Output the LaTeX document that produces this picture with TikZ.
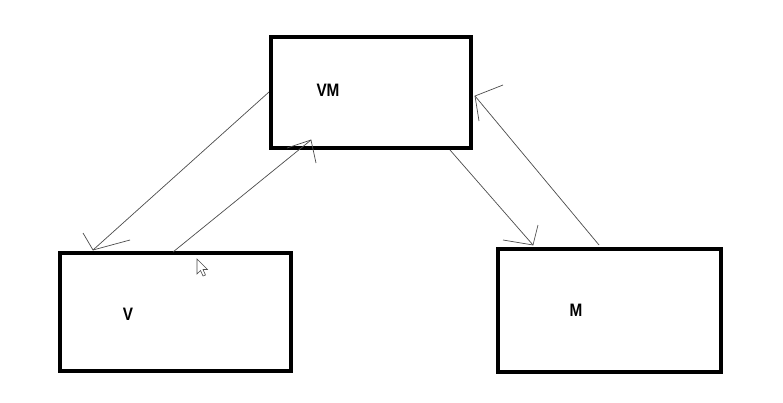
\documentclass[tikz,border=0pt]{standalone}
\usepackage{fontspec}
\setmainfont{Liberation Sans}
\begin{document}
\begin{tikzpicture}[x=1pt,y=-1pt,
  box/.style={draw=black,line width=4pt,inner sep=0pt,fill=white},
  lbl/.style={inner sep=0pt,font=\fontsize{18}{18}\selectfont\bfseries},
  conn/.style={draw=black!70,line width=0.7pt}]
\useasboundingbox (0,0) rectangle (783,402);
\fill[white] (0,0) rectangle (783,402);
% boxes
\node[box,minimum width=200pt,minimum height=111pt] (vm) at (371,92.5) {};
\node[box,minimum width=231pt,minimum height=118pt] (v) at (175.5,312) {};
\node[box,minimum width=223pt,minimum height=123pt] (m) at (609.5,310.5) {};
% labels
\node[lbl] (vmlbl) at (328,90) {\scalebox{0.85}[1]{VM}};
\node[lbl] (vlbl) at (128,314) {\scalebox{0.85}[1]{V}};
\node[lbl] (mlbl) at (576,310) {\scalebox{0.85}[1]{M}};
% connector end points
\coordinate (s1) at (269,92);
\coordinate (t1) at (93,250);
\coordinate (h1a) at (83,233);
\coordinate (h1b) at (130,240);
\coordinate (s2) at (173,252);
\coordinate (t2) at (311,140);
\coordinate (h2a) at (287,148);
\coordinate (h2b) at (316,163);
\coordinate (s3) at (450,150);
\coordinate (t3) at (533,245);
\coordinate (h3a) at (503,240);
\coordinate (h3b) at (538,225);
\coordinate (s4) at (599,245);
\coordinate (t4) at (475,96);
\coordinate (h4a) at (503,85);
\coordinate (h4b) at (479,121);
% connectors
\draw[conn] (s1) -- (t1);
\draw[conn] (h1a) -- (t1) -- (h1b);
\draw[conn] (s2) -- (t2);
\draw[conn] (h2a) -- (t2) -- (h2b);
\draw[conn] (s3) -- (t3);
\draw[conn] (h3a) -- (t3) -- (h3b);
\draw[conn] (s4) -- (t4);
\draw[conn] (h4a) -- (t4) -- (h4b);
% mouse cursor
\draw[black!70,fill=white,line width=0.6pt,line join=miter]
  (197,259) -- (197,274) -- (200.5,270.5) -- (203,276) -- (205.5,275) -- (203,269.5) -- (207.5,269.5) -- cycle;
\end{tikzpicture}
\end{document}
